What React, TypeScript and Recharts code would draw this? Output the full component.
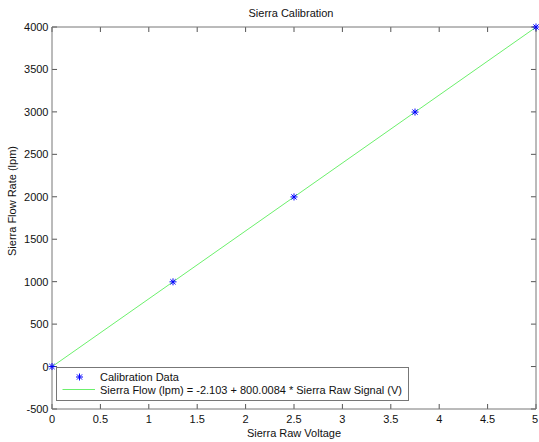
import React from 'react';
import { ComposedChart, XAxis, YAxis, Scatter, Line, Legend, ReferenceLine } from 'recharts';

// calibration points (voltage -> flow)
const voltage = [0, 1.25, 2.5, 3.75, 5];
const flow = [0, 998, 1998, 2998, 4000];

// fitted line endpoints: Flow = -2.103 + 800.0084 * V
const fitVoltage = [0, 5];
const fitFlow = [-2.103, 3997.939];

const xTicks = [0, 0.5, 1, 1.5, 2, 2.5, 3, 3.5, 4, 4.5, 5];
const yTicks = [-500, 0, 500, 1000, 1500, 2000, 2500, 3000, 3500, 4000];

const pointData = voltage.map((x, i) => ({ x, y: flow[i] }));
const fitData = fitVoltage.map((x, i) => ({ x, y: fitFlow[i] }));

const FONT = '"Liberation Sans", Arial, Helvetica, sans-serif';
const AXIS = '#777';
const TICKC = '#555';
const TXT = '#111';
const GREEN = '#6cf06c';

// inward tick length in data units (~5px)
const X_TICK_LEN = 0.052;
const Y_TICK_LEN = 59;

const Asterisk = (props: any) => {
  const { cx, cy } = props;
  const r = 3.5;
  const d = 2.6;
  return (
    <g stroke="#0000ff" strokeWidth={1}>
      <line x1={cx - r} y1={cy} x2={cx + r} y2={cy} />
      <line x1={cx} y1={cy - r} x2={cx} y2={cy + r} />
      <line x1={cx - d} y1={cy - d} x2={cx + d} y2={cy + d} />
      <line x1={cx - d} y1={cy + d} x2={cx + d} y2={cy - d} />
    </g>
  );
};

const BottomTick = (props: any) => {
  const { x, y, payload } = props;
  return (
    <text x={x} y={y + 14} textAnchor="middle" fontSize={11} fontFamily={FONT} fill={TXT}>
      {payload.value}
    </text>
  );
};

const LeftTick = (props: any) => {
  const { x, y, payload } = props;
  return (
    <text x={x - 3.5} y={y + 4} textAnchor="end" fontSize={11} fontFamily={FONT} fill={TXT}>
      {payload.value}
    </text>
  );
};

const LegendBox = () => (
  <svg width={353} height={34} style={{ display: 'block' }}>
    <rect x={0.5} y={0.5} width={352} height={33} fill="#fff" stroke={AXIS} />
    <Asterisk cx={23.5} cy={10} />
    <line x1={6.5} y1={22.5} x2={39} y2={22.5} stroke={GREEN} strokeWidth={1} />
    <text x={44} y={14} fontSize={11} fontFamily={FONT} fill={TXT}>Calibration Data</text>
    <text x={44} y={26.5} fontSize={11} fontFamily={FONT} fill={TXT}>
      Sierra Flow (lpm) = -2.103 + 800.0084 * Sierra Raw Signal (V)
    </text>
  </svg>
);

const labelStyle = { fontSize: 11, fontFamily: FONT, fill: TXT };
const xMin = xTicks[0];
const xMax = xTicks[xTicks.length - 1];
const yMin = yTicks[0];
const yMax = yTicks[yTicks.length - 1];

export default function App() {
  return (
    <div style={{ position: 'absolute', left: 0, top: 0, background: '#fff' }}>
      <ComposedChart width={539} height={442} margin={{ top: 26, right: 2, bottom: 0, left: 0 }}>
        <XAxis
          dataKey="x"
          type="number"
          domain={[xMin, xMax]}
          ticks={xTicks}
          height={33}
          tickSize={0}
          tickMargin={0}
          tickLine={false}
          tick={BottomTick}
          stroke={AXIS}
          label={{ value: 'Sierra Raw Voltage', position: 'center', dy: 8, style: labelStyle }}
        />
        <XAxis
          xAxisId="top"
          orientation="top"
          type="number"
          domain={[xMin, xMax]}
          ticks={xTicks}
          height={1}
          tickLine={false}
          tick={false}
          stroke={AXIS}
          label={{ value: 'Sierra Calibration', position: 'top', offset: 9, dx: -3, style: labelStyle }}
        />
        <YAxis
          dataKey="y"
          type="number"
          domain={[yMin, yMax]}
          ticks={yTicks}
          width={52}
          tickSize={0}
          tickMargin={0}
          tickLine={false}
          tick={LeftTick}
          stroke={AXIS}
          label={{ value: 'Sierra Flow Rate (lpm)', angle: -90, position: 'center', dx: -14, dy: -17, style: labelStyle }}
        />
        <YAxis
          yAxisId="right"
          orientation="right"
          type="number"
          domain={[yMin, yMax]}
          ticks={yTicks}
          width={1}
          tickLine={false}
          tick={false}
          stroke={AXIS}
        />
        {xTicks.map((t) => (
          <ReferenceLine
            key={`xb-${t}`}
            segment={[{ x: t, y: yMin }, { x: t, y: yMin + Y_TICK_LEN }]}
            stroke={TICKC}
            ifOverflow="visible"
          />
        ))}
        {xTicks.map((t) => (
          <ReferenceLine
            key={`xt-${t}`}
            segment={[{ x: t, y: yMax }, { x: t, y: yMax - Y_TICK_LEN }]}
            stroke={TICKC}
            ifOverflow="visible"
          />
        ))}
        {yTicks.map((t) => (
          <ReferenceLine
            key={`yl-${t}`}
            segment={[{ x: xMin, y: t }, { x: xMin + X_TICK_LEN, y: t }]}
            stroke={TICKC}
            ifOverflow="visible"
          />
        ))}
        {yTicks.map((t) => (
          <ReferenceLine
            key={`yr-${t}`}
            segment={[{ x: xMax, y: t }, { x: xMax - X_TICK_LEN, y: t }]}
            stroke={TICKC}
            ifOverflow="visible"
          />
        ))}
        <Line
          data={fitData}
          dataKey="y"
          type="linear"
          stroke={GREEN}
          strokeWidth={1}
          dot={false}
          activeDot={false}
          name="Sierra Flow (lpm) = -2.103 + 800.0084 * Sierra Raw Signal (V)"
          isAnimationActive={false}
        />
        <Scatter
          data={pointData}
          dataKey="y"
          fill="#0000ff"
          shape={Asterisk}
          name="Calibration Data"
          isAnimationActive={false}
        />
        <Legend
          layout="vertical"
          align="center"
          verticalAlign="middle"
          content={() => <LegendBox />}
          wrapperStyle={{ left: 55.5, top: 366.5, width: 353, height: 34 }}
        />
      </ComposedChart>
    </div>
  );
}
